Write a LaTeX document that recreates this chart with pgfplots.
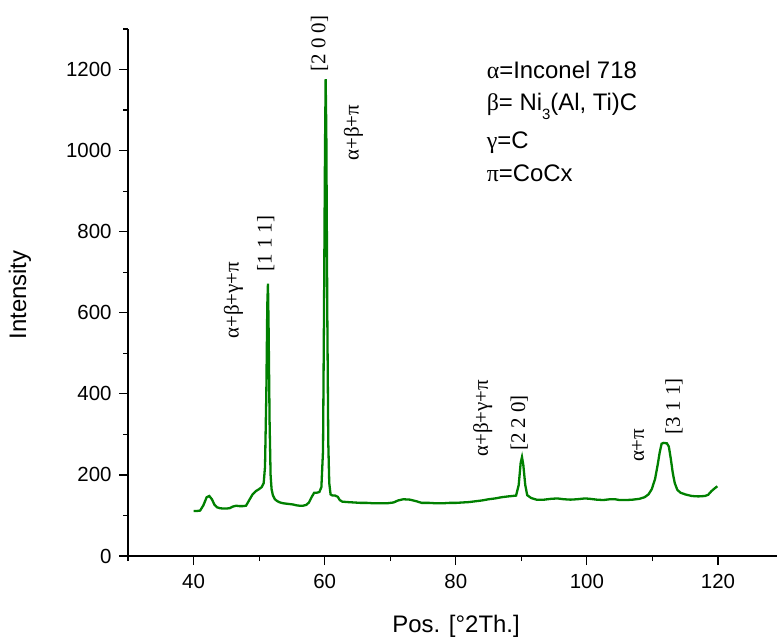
\documentclass[border=0pt]{standalone}
\usepackage{pgfplots}
\pgfplotsset{compat=1.18}
\usepackage{fontspec}
\setmainfont{Liberation Sans}
\newfontfamily\serif{Liberation Serif}
\definecolor{xrdgreen}{RGB}{0,128,0}

% XRD pattern: 2-theta position vs. intensity
\pgfplotstableread{
x y
40.0 111
40.5 111
41.0 112
41.5 125
42.0 145
42.4 148
42.8 140
43.2 126
43.6 120
44.0 118
44.5 117
45.0 117
45.5 118
46.0 122
46.5 124
47.0 123
47.5 123
48.0 124
48.5 138
49.0 152
49.5 160
50.0 165
50.4 170
50.7 180
50.9 220
51.1 400
51.25 620
51.35 672
51.45 560
51.6 330
51.75 200
51.9 165
52.1 150
52.4 140
52.8 135
53.2 132
53.7 130
54.2 129
54.7 128
55.2 127
55.7 125
56.2 124
56.7 124
57.2 126
57.6 132
58.0 145
58.4 156
58.8 156
59.2 158
59.5 170
59.75 260
59.9 600
60.05 1000
60.15 1176
60.25 1050
60.4 600
60.55 280
60.7 180
60.9 152
61.2 149
61.6 149
62.0 146
62.3 138
62.7 134
63.5 133
64.5 132
65.5 131
66.5 131
67.5 130
68.5 130
69.5 130
70.5 132
71.2 137
72.0 140
73.0 139
74.0 135
74.8 131
76.0 131
77.0 130
78.0 130
79.0 131
80.0 131
81.0 132
82.0 133
83.0 135
84.0 137
85.0 140
86.0 142
87.0 145
88.0 147
89.2 149
89.6 175
89.9 230
90.1 244
90.3 225
90.6 175
90.9 150
91.5 143
92.3 139
93.5 139
94.5 141
95.5 142
96.5 140
97.5 139
98.5 140
99.7 142
100.5 141
101.5 139
102.5 138
103.5 140
104.3 140
105.0 138
106.0 138
107.0 139
108.0 141
108.8 145
109.4 152
109.9 165
110.4 190
110.8 225
111.1 255
111.4 277
111.7 279
112.2 278
112.5 270
112.8 240
113.1 205
113.4 180
113.8 163
114.3 156
115.0 152
116.0 148
117.0 147
118.0 148
118.5 151
119.0 160
119.5 167
119.9 172
}\xrd

\begin{document}
\begin{tikzpicture}
\useasboundingbox (0,0) rectangle (777bp,638bp);
\begin{axis}[
  at={(128bp,82bp)}, anchor=south west,
  scale only axis, width=649bp, height=527bp,
  xmin=30, xmax=129, ymin=0, ymax=1300,
  axis x line*=bottom, axis y line*=left,
  axis line style={-, line width=1.2bp},
  xtick={40,60,...,120}, minor xtick={30,50,...,130},
  ytick={0,200,...,1200}, minor ytick={100,300,...,1300},
  tick align=outside,
  major tick length=9bp, minor tick length=5bp,
  every tick/.style={black, line width=1.2bp},
  /pgf/number format/assume math mode=true,
  /pgf/number format/1000 sep={},
  ticklabel style={font=\fontsize{20.5}{24}\selectfont},
  yticklabel style={xshift=-4bp},
  xticklabel style={yshift=-6bp},
  clip=false,
]
\addplot[xrdgreen, line width=2.3bp] table[x=x, y=y] {\xrd};

% phase / reflection annotations
\node[rotate=90, font=\serif\fontsize{21}{25}\selectfont] at (axis cs:59.2,1264) {[2 0 0]};
\node[rotate=90, font=\serif\fontsize{21}{25}\selectfont] at (axis cs:64.4,1044) {α+β+π};
\node[rotate=90, font=\serif\fontsize{21}{25}\selectfont] at (axis cs:51.0,771) {[1 1 1]};
\node[rotate=90, font=\serif\fontsize{21}{25}\selectfont] at (axis cs:46.1,631) {α+β+γ+π};
\node[rotate=90, font=\serif\fontsize{21}{25}\selectfont] at (axis cs:84.1,340) {α+β+γ+π};
\node[rotate=90, font=\serif\fontsize{21}{25}\selectfont] at (axis cs:89.7,328) {[2 2 0]};
\node[rotate=90, font=\serif\fontsize{21}{25}\selectfont] at (axis cs:107.8,273) {α+π};
\node[rotate=90, font=\serif\fontsize{21}{25}\selectfont] at (axis cs:113.3,369) {[3 1 1]};

% phase key
\node[anchor=base west, inner sep=0pt, font=\fontsize{24}{28}\selectfont] at (axis cs:84.7,1178) {{\serif α}=Inconel 718};
\node[anchor=base west, inner sep=0pt, font=\fontsize{24}{28}\selectfont] at (axis cs:84.7,1100) {{\serif β}= Ni\raisebox{-0.4em}{\fontsize{15}{17}\selectfont 3}(Al, Ti)C};
\node[anchor=base west, inner sep=0pt, font=\fontsize{24}{28}\selectfont] at (axis cs:84.7,1006) {{\serif γ}=C};
\node[anchor=base west, inner sep=0pt, font=\fontsize{24}{28}\selectfont] at (axis cs:84.7,925) {{\serif π}=CoCx};
\end{axis}

% axis titles
\node[rotate=90, font=\fontsize{24}{28}\selectfont] at (20bp,343bp) {Intensity};
\node[anchor=base, inner sep=0pt, font=\fontsize{24}{28}\selectfont] at (456bp,6bp) {Pos. [°2Th.]};
\end{tikzpicture}
\end{document}
